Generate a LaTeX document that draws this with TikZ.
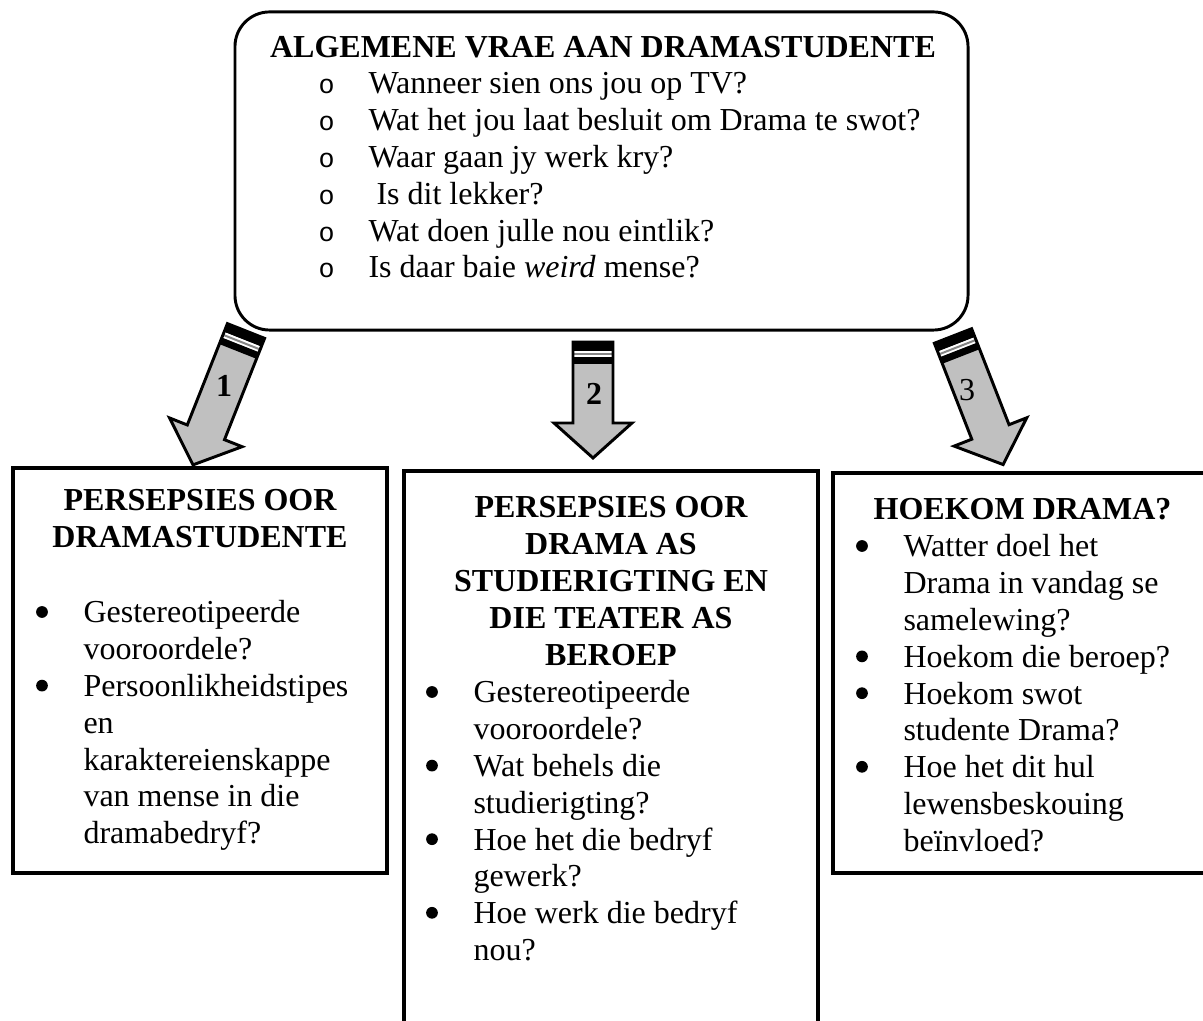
\documentclass[tikz,border=0pt]{standalone}
\usepackage{fontspec}
\setmainfont{Liberation Serif}
\newfontfamily\bulletfont{Liberation Mono}
\usetikzlibrary{positioning}

\newcommand{\twelve}{\fontsize{12pt}{13.8pt}\selectfont}
\definecolor{arrowgray}{RGB}{192,192,192}

\tikzset{
  vraebox/.style={draw, line width=1.1pt, fill=white, rounded corners=13pt},
  qbox/.style={draw, line width=1.3pt, fill=white},
  heading/.style={font=\twelve\bfseries, align=center, inner sep=0pt},
  qtext/.style={font=\twelve, align=left, inner sep=0pt},
  dot/.style={circle, fill, inner sep=0pt, minimum size=4.4pt},
  arrowedge/.style={line width=1.1pt, line join=miter},
}

% striped block arrow: #1 tail coordinate, #2 angle, #3 length
\newcommand{\stripedarrow}[3]{%
  \begin{scope}[shift={(#1)}, rotate=#2]
    \fill[arrowgray] (0,20) -- ({#3-35},20) -- ({#3-35},39) -- (#3,0)
      -- ({#3-35},-39) -- ({#3-35},-20) -- (0,-20) -- cycle;
    \fill (0,-20) rectangle (9,20);
    \fill[white] (9,-20) rectangle (15,20);
    \fill[arrowgray!70!black] (11,-20) rectangle (13,20);
    \fill (15,-20) rectangle (22,20);
    \draw[arrowedge] (0,20) -- ({#3-35},20) -- ({#3-35},39) -- (#3,0)
      -- ({#3-35},-39) -- ({#3-35},-20) -- (0,-20) -- cycle;
  \end{scope}}

\begin{document}
\begin{tikzpicture}[x=0.375pt, y=-0.375pt]
\useasboundingbox (0,0) rectangle (1203,1021);

% arrows first, the top box covers their tails
\coordinate (tail1) at (246,331);
\coordinate (tail2) at (593,342);
\coordinate (tail3) at (953,336);
\stripedarrow{tail1}{-111.6}{144}
\stripedarrow{tail2}{-90}{116}
\stripedarrow{tail3}{-68.7}{138}
\node[font=\twelve\bfseries] (num1) at (224,386) {1};
\node[font=\twelve\bfseries] (num2) at (594,394) {2};
\node[font=\twelve] (num3) at (967,390) {3};

% top box (multi-line nodes sit on their last baseline)
\node[vraebox, minimum width=274.9pt, minimum height=119.3pt] (vrae) at (601.5,171) {};
\node[heading, anchor=base] (vraetitle) at (603,58) {ALGEMENE VRAE AAN DRAMASTUDENTE};
\foreach \y [count=\i] in {94,130.8,167.6,204.4,241.2,278}
  \node[anchor=base west, inner sep=0pt, font=\bulletfont\fontsize{10pt}{12pt}\selectfont] (o-\i) at (318,\y) {o};
\node[qtext, anchor=base west] (vraelys) at (368,278)
  {Wanneer sien ons jou op TV?\\
   Wat het jou laat besluit om Drama te swot?\\
   Waar gaan jy werk kry?\\
   \hspace*{3pt}Is dit lekker?\\
   Wat doen julle nou eintlik?\\
   Is daar baie \textit{weird} mense?};

% box 1
\node[qbox, minimum width=140.25pt, minimum height=151.9pt] (studente) at (200,670.5) {};
\node[heading, anchor=base] (studentetitle) at (200,547.8) {PERSEPSIES OOR\\DRAMASTUDENTE};
\foreach \y [count=\i] in {623,696.6}
  \node[dot] (b1-\i) at (42,\y-11) {};
\node[qtext, anchor=base west] (studentelys) at (83,843.8)
  {Gestereotipeerde\\vooroordele?\\Persoonlikheidstipes\\en\\karaktereienskappe\\van mense in die\\dramabedryf?};

% box 2
\node[qbox, minimum width=155.25pt, minimum height=213.4pt] (beroep) at (611,755.5) {};
\node[heading, anchor=base] (beroeptitle) at (611,665.2)
  {PERSEPSIES OOR\\DRAMA AS\\STUDIERIGTING EN\\DIE TEATER AS\\BEROEP};
\foreach \y [count=\i] in {703,776.6,850.2,923.8}
  \node[dot] (b2-\i) at (432,\y-11) {};
\node[qtext, anchor=base west] (beroeplys) at (473,960.6)
  {Gestereotipeerde\\vooroordele?\\Wat behels die\\studierigting?\\Hoe het die bedryf\\gewerk?\\Hoe werk die bedryf\\nou?};

% box 3
\node[qbox, minimum width=142.1pt, minimum height=150pt] (hoekom) at (1022.5,673) {};
\node[heading, anchor=base] (hoekomtitle) at (1022.5,520) {HOEKOM DRAMA?};
\foreach \y [count=\i] in {557,667.4,704.2,777.8}
  \node[dot] (b3-\i) at (862,\y-11) {};
\node[qtext, anchor=base west] (hoekomlys) at (903,851.4)
  {Watter doel het\\Drama in vandag se\\samelewing?\\Hoekom die beroep?\\Hoekom swot\\studente Drama?\\Hoe het dit hul\\lewensbeskouing\\beïnvloed?};
\end{tikzpicture}
\end{document}
